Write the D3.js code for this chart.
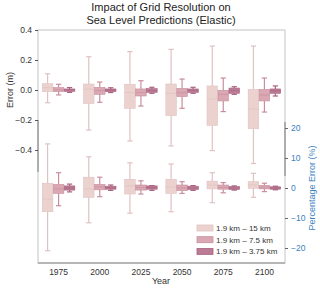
<!DOCTYPE html>
<html>
<head>
<meta charset="utf-8">
<script src="https://cdn.jsdelivr.net/npm/d3@7"></script>
<style>
  body { margin: 0; background: #fff; }
  svg { display: block; font-family: "Liberation Sans", Arial, sans-serif; }
</style>
</head>
<body>
<div id="chart"></div>
<script>
// categories
const years  = ['1975', '2000', '2025', '2050', '2075', '2100'];
const series = ['1.9 km \u2013 15 km', '1.9 km \u2013 7.5 km', '1.9 km \u2013 3.75 km'];

// box stats [whisker low, q1, median, q3, whisker high] per year
// upper panel: error in metres
const err15  = [[-0.085, -0.011, 0.015, 0.042, 0.108], [-0.267, -0.089, 0.005, 0.040, 0.222], [-0.340, -0.122, -0.016, 0.038, 0.256],
                [-0.373, -0.171, -0.022, 0.040, 0.271], [-0.404, -0.236, -0.060, 0.027, 0.293], [-0.490, -0.258, -0.127, 0.004, 0.293]];
const err75  = [[-0.033, -0.011, 0.002, 0.016, 0.038], [-0.082, -0.029, -0.004, 0.018, 0.053], [-0.107, -0.040, -0.016, 0.007, 0.062],
                [-0.122, -0.044, -0.018, 0.011, 0.073], [-0.144, -0.073, -0.029, -0.002, 0.080], [-0.147, -0.073, -0.033, 0.004, 0.080]];
const err375 = [[-0.016, -0.009, 0.000, 0.007, 0.016], [-0.017, -0.011, -0.002, 0.007, 0.015], [-0.022, -0.016, -0.004, 0.009, 0.018],
                [-0.022, -0.016, -0.004, 0.007, 0.018], [-0.029, -0.022, -0.004, 0.013, 0.022], [-0.040, -0.022, -0.006, 0.007, 0.027]];
// lower panel: percentage error
const pct15  = [[-20.9, -7.9, -3.7, 1.6, 14.7], [-11.6, -3.1, -0.3, 3.6, 10.4], [-8.4, -2.0, 0.7, 2.9, 8.4],
                [-7.9, -1.8, 0.4, 2.9, 8.0], [-4.9, -0.3, 1.0, 2.3, 5.1], [-3.1, -0.1, 1.0, 2.1, 4.9]];
const pct75  = [[-5.9, -1.8, -0.3, 1.2, 5.1], [-2.9, -0.6, 0.4, 1.2, 3.6], [-2.0, -0.7, 0.2, 1.0, 2.4],
                [-1.8, -0.9, 0.0, 1.0, 2.1], [-1.6, -0.4, 0.2, 1.0, 1.8], [-1.2, -0.3, 0.3, 0.9, 1.6]];
const pct375 = [[-1.3, -0.7, 0.0, 0.7, 1.3], [-0.8, -0.4, 0.1, 0.6, 1.0], [-0.8, -0.4, 0.1, 0.7, 0.8],
                [-0.8, -0.5, 0.0, 0.6, 0.8], [-0.7, -0.5, 0.0, 0.5, 0.7], [-0.6, -0.4, 0.0, 0.4, 0.6]];

const errTicks = [0.4, 0.2, 0.0, -0.2, -0.4];
const pctTicks = [20, 10, 0, -10, -20];

const fills = ['#ecd2cf', '#d9a8b2', '#bb7b94'];
const lines = ['#dfc2c2', '#c98e9d', '#a9627f'];

const W = 320, H = 288;
const m = { left: 38, right: 285, top: 30, bottom: 263 };

const svg = d3.select('#chart').append('svg').attr('width', W).attr('height', H);

const x = d3.scaleBand().domain(years).range([m.left, m.right]);
const xSub = d3.scaleBand().domain(series).range([0, x.bandwidth() * 0.8]);
const subX = (yr, s) => x(yr) + x.bandwidth() * 0.1 + xSub(s) + xSub.bandwidth() / 2;

const yErr = d3.scaleLinear().domain([0.4, -0.4]).range([30, 150]);
const yPct = d3.scaleLinear().domain([20, -20]).range([128, 248]);

// frame
svg.append('rect').attr('x', m.left).attr('y', m.top)
  .attr('width', m.right - m.left).attr('height', m.bottom - m.top)
  .attr('fill', 'none').attr('stroke', '#c4c4c4').attr('stroke-width', 1);
svg.append('line').attr('x1', m.left).attr('x2', m.right).attr('y1', m.bottom).attr('y2', m.bottom)
  .attr('stroke', '#8a8a8a');
svg.append('line').attr('x1', m.left).attr('x2', m.left).attr('y1', 120).attr('y2', 172).attr('stroke', '#7a7a7a');
svg.append('line').attr('x1', m.right).attr('x2', m.right).attr('y1', 122).attr('y2', 176).attr('stroke', '#7a7a7a');

function drawBoxes(stats, yScale, si) {
  const g = svg.append('g');
  const bw = xSub.bandwidth() * 0.96;
  const capW = bw * 0.5;
  const rows = years.map((yr, i) => ({ yr, s: stats[i], cx: subX(yr, series[si]) }));

  const box = g.selectAll('.b').data(rows).enter().append('g');
  box.append('line')
    .attr('x1', d => d.cx).attr('x2', d => d.cx)
    .attr('y1', d => yScale(d.s[4])).attr('y2', d => yScale(d.s[3]))
    .attr('stroke', lines[si]).attr('stroke-width', 1.2);
  box.append('line')
    .attr('x1', d => d.cx).attr('x2', d => d.cx)
    .attr('y1', d => yScale(d.s[1])).attr('y2', d => yScale(d.s[0]))
    .attr('stroke', lines[si]).attr('stroke-width', 1.2);
  [0, 4].forEach(k => {
    box.append('line')
      .attr('x1', d => d.cx - capW / 2).attr('x2', d => d.cx + capW / 2)
      .attr('y1', d => yScale(d.s[k])).attr('y2', d => yScale(d.s[k]))
      .attr('stroke', lines[si]).attr('stroke-width', 1.2);
  });
  box.append('rect')
    .attr('x', d => d.cx - bw / 2).attr('width', bw)
    .attr('y', d => yScale(d.s[3]))
    .attr('height', d => Math.max(1, yScale(d.s[1]) - yScale(d.s[3])))
    .attr('fill', fills[si]).attr('stroke', lines[si]).attr('stroke-width', 0.6);
  box.append('line')
    .attr('x1', d => d.cx - bw / 2).attr('x2', d => d.cx + bw / 2)
    .attr('y1', d => yScale(d.s[2])).attr('y2', d => yScale(d.s[2]))
    .attr('stroke', lines[si]).attr('stroke-width', 0.8).attr('opacity', 0.8);
}

[err15, err75, err375].forEach((st, i) => drawBoxes(st, yErr, i));
[pct15, pct75, pct375].forEach((st, i) => drawBoxes(st, yPct, i));

// left axis (error in m)
const fmtErr = d => d3.format('.1f')(d).replace('-', '\u2212');
const leftAx = svg.append('g').attr('transform', `translate(${m.left},0)`)
  .call(d3.axisLeft(yErr).tickValues(errTicks).tickSize(3).tickPadding(3).tickFormat(fmtErr));
leftAx.select('.domain').remove();
leftAx.selectAll('line').attr('stroke', '#555');
leftAx.selectAll('text').attr('font-size', 8.5).attr('fill', '#333').attr('font-family', 'Liberation Sans, Arial, sans-serif');

// right axis (percentage)
const rightAx = svg.append('g').attr('transform', `translate(${m.right},0)`)
  .call(d3.axisRight(yPct).tickValues(pctTicks).tickSize(3).tickPadding(3)
    .tickFormat(d => String(d).replace('-', '\u2212')));
rightAx.select('.domain').remove();
rightAx.selectAll('line').attr('stroke', '#666');
rightAx.selectAll('text').attr('font-size', 8.5).attr('fill', '#3a7fc0').attr('font-family', 'Liberation Sans, Arial, sans-serif');

// bottom axis
const botAx = svg.append('g').attr('transform', `translate(0,${m.bottom})`)
  .call(d3.axisBottom(x).tickSize(0).tickPadding(6));
botAx.select('.domain').remove();
botAx.selectAll('text').attr('font-size', 8.5).attr('fill', '#333').attr('font-family', 'Liberation Sans, Arial, sans-serif');

// labels
svg.append('text').attr('x', 161).attr('y', 11).attr('text-anchor', 'middle')
  .attr('font-size', 11).attr('fill', '#222').text('Impact of Grid Resolution on');
svg.append('text').attr('x', 161).attr('y', 24).attr('text-anchor', 'middle')
  .attr('font-size', 11).attr('fill', '#222').text('Sea Level Predictions (Elastic)');
svg.append('text').attr('transform', 'translate(13,90) rotate(-90)').attr('text-anchor', 'middle')
  .attr('font-size', 9).attr('fill', '#333').text('Error (m)');
svg.append('text').attr('x', 161).attr('y', 284).attr('text-anchor', 'middle')
  .attr('font-size', 9).attr('fill', '#333').text('Year');
svg.append('text').attr('transform', 'translate(315,188) rotate(-90)').attr('text-anchor', 'middle')
  .attr('font-size', 9).attr('fill', '#3a7fc0').text('Percentage Error (%)');

// legend
const leg = svg.append('g').attr('transform', 'translate(197,225)');
series.forEach((s, i) => {
  const row = leg.append('g').attr('transform', `translate(0,${i * 11.7})`);
  row.append('rect').attr('width', 16).attr('height', 6)
    .attr('fill', fills[i]).attr('stroke', lines[i]).attr('stroke-width', 0.8);
  row.append('text').attr('x', 19).attr('y', 6).attr('font-size', 8).attr('fill', '#333').text(s);
});
</script>
</body>
</html>
